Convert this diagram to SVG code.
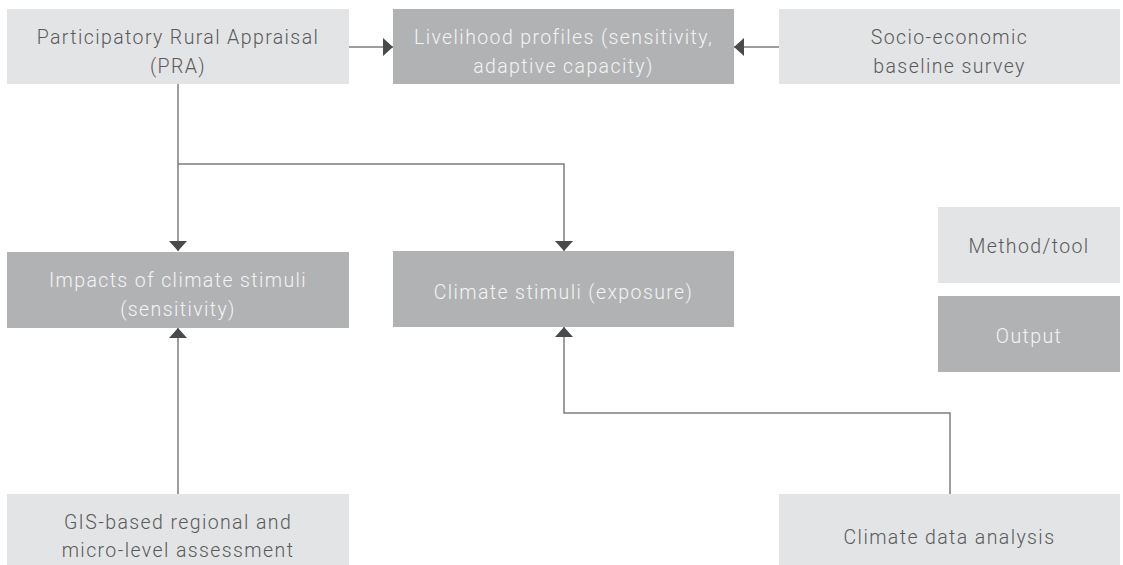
<svg xmlns="http://www.w3.org/2000/svg" width="1123" height="565" viewBox="0 0 1123 565">
  <style>
    .light { fill: #e3e4e5; }
    .dark { fill: #b1b2b3; }
    text { font-family: "Roboto", "Liberation Sans", sans-serif; font-weight: 300; font-size: 19.5px; letter-spacing: 1.4px; text-anchor: middle; }
    .tl { fill: #5a5a5a; }
    .td { fill: #f4f4f4; }
    .conn { fill: none; stroke: #7d7d7d; stroke-width: 1.5; }
  </style>
  <defs>
    <marker id="arrow" markerUnits="userSpaceOnUse" markerWidth="10" markerHeight="18" refX="10" refY="9" orient="auto">
      <path d="M0,0 L10,9 L0,18 Z" fill="#4a4a4a"/>
    </marker>
  </defs>
  <rect width="1123" height="565" fill="#ffffff"/>

  <g id="connectors">
    <path class="conn" d="M349,47 H393" marker-end="url(#arrow)"/>
    <path class="conn" d="M779,47 H734" marker-end="url(#arrow)"/>
    <path class="conn" d="M178,84 V251" marker-end="url(#arrow)"/>
    <path class="conn" d="M178,164 H564 V251" marker-end="url(#arrow)"/>
    <path class="conn" d="M178,494 V328" marker-end="url(#arrow)"/>
    <path class="conn" d="M950,494 V413 H564 V327" marker-end="url(#arrow)"/>
  </g>

  <g id="pra">
    <rect class="light" x="7" y="9" width="342" height="75"/>
    <text class="tl" x="178" y="44">Participatory Rural Appraisal</text>
    <text class="tl" x="178" y="73">(PRA)</text>
  </g>
  <g id="livelihood">
    <rect class="dark" x="393" y="9" width="341" height="75"/>
    <text class="td" x="563.5" y="44">Livelihood profiles (sensitivity,</text>
    <text class="td" x="563.5" y="73">adaptive capacity)</text>
  </g>
  <g id="socio">
    <rect class="light" x="779" y="9" width="341" height="75"/>
    <text class="tl" x="949.5" y="44">Socio-economic</text>
    <text class="tl" x="949.5" y="73">baseline survey</text>
  </g>
  <g id="impacts">
    <rect class="dark" x="7" y="252" width="342" height="76"/>
    <text class="td" x="178" y="287">Impacts of climate stimuli</text>
    <text class="td" x="178" y="316">(sensitivity)</text>
  </g>
  <g id="climate-stimuli">
    <rect class="dark" x="393" y="251" width="341" height="76"/>
    <text class="td" x="563.5" y="299">Climate stimuli (exposure)</text>
  </g>
  <g id="legend-method">
    <rect class="light" x="938" y="207" width="182" height="76"/>
    <text class="tl" x="1029" y="253">Method/tool</text>
  </g>
  <g id="legend-output">
    <rect class="dark" x="938" y="296" width="182" height="76"/>
    <text class="td" x="1029" y="343">Output</text>
  </g>
  <g id="gis">
    <rect class="light" x="7" y="494" width="342" height="71"/>
    <text class="tl" x="178" y="529">GIS-based regional and</text>
    <text class="tl" x="178" y="557">micro-level assessment</text>
  </g>
  <g id="climate-data">
    <rect class="light" x="779" y="494" width="341" height="71"/>
    <text class="tl" x="949.5" y="544">Climate data analysis</text>
  </g>
</svg>
